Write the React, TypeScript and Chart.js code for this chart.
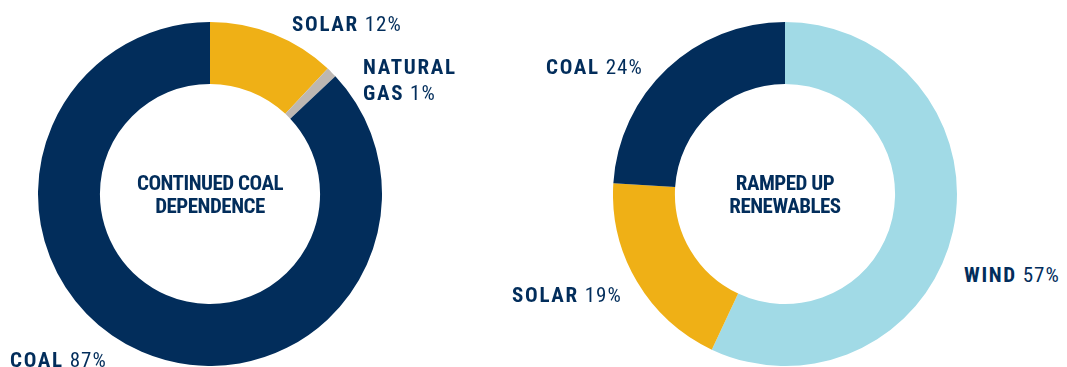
import React, { useEffect, useRef } from "react";
import { Chart, registerables } from "chart.js";

Chart.register(...registerables);

// ---- data ----
const leftCategories = ["SOLAR", "NATURAL GAS", "COAL"];
const leftValues = [12, 1, 87];
const leftColors = ["#EFB016", "#BDB7B2", "#022D5B"];
const leftTitle = ["CONTINUED COAL", "DEPENDENCE"];

const rightCategories = ["WIND", "SOLAR", "COAL"];
const rightValues = [57, 19, 24];
const rightColors = ["#A1DAE6", "#EFB016", "#022D5B"];
const rightTitle = ["RAMPED UP", "RENEWABLES"];

const NAVY = "#022D5B";
const FONT = "'Liberation Sans Narrow', 'Roboto Condensed', 'Arial Narrow', Roboto, sans-serif";

type LabelProps = { lines: { bold: string; value?: string }[]; x: number; y: number; lh?: number };

function Label({ lines, x, y, lh = 26 }: LabelProps) {
  return (
    <div
      style={{
        position: "absolute",
        left: x,
        top: y - 3,
        fontFamily: FONT,
        fontSize: 21,
        lineHeight: lh + "px",
        color: NAVY,
        whiteSpace: "nowrap",
      }}
    >
      {lines.map((l, i) => (
        <div key={i} style={{ height: lh }}>
          <span style={{ fontWeight: 700, letterSpacing: 1.7 }}>{l.bold}</span>
          {l.value ? <span style={{ fontWeight: 400, letterSpacing: 1.0 }}>{" " + l.value}</span> : null}
        </div>
      ))}
    </div>
  );
}

function Donut({ values, colors, labels, left, top, title }: {
  values: number[]; colors: string[]; labels: string[]; left: number; top: number; title: string[];
}) {
  const ref = useRef<HTMLCanvasElement | null>(null);
  useEffect(() => {
    if (!ref.current) return;
    const chart = new Chart(ref.current, {
      type: "doughnut",
      data: {
        labels,
        datasets: [
          {
            data: values,
            backgroundColor: colors,
            borderWidth: 0,
            hoverOffset: 0,
          },
        ],
      },
      options: {
        responsive: false,
        animation: false,
        cutout: "64%",
        layout: { padding: 0 },
        plugins: { legend: { display: false }, tooltip: { enabled: false } },
        events: [],
      },
    });
    return () => chart.destroy();
  }, []);
  return (
    <div style={{ position: "absolute", left, top, width: 344, height: 344 }}>
      <canvas ref={ref} width={344} height={344} style={{ width: 344, height: 344 }} />
      <div
        style={{
          position: "absolute",
          left: 0,
          width: 344,
          top: 150,
          textAlign: "center",
          fontFamily: FONT,
          fontWeight: 700,
          fontSize: 21,
          letterSpacing: -0.5,
          lineHeight: "23px",
          color: NAVY,
        }}
      >
        {title.map((t, i) => (
          <div key={i}>{t}</div>
        ))}
      </div>
    </div>
  );
}

export default function App() {
  useEffect(() => {
    document.body.style.margin = "0";
    document.body.style.background = "#ffffff";
  }, []);
  return (
    <div style={{ position: "relative", width: 1067, height: 367, overflow: "hidden", background: "#fff" }}>
      <Donut values={leftValues} colors={leftColors} labels={leftCategories} left={38} top={22} title={leftTitle} />
      <Donut values={rightValues} colors={rightColors} labels={rightCategories} left={613} top={22} title={rightTitle} />
      <Label lines={[{ bold: "SOLAR", value: leftValues[0] + "%" }]} x={292} y={14} />
      <Label lines={[{ bold: "NATURAL" }, { bold: "GAS", value: leftValues[1] + "%" }]} x={363} y={57} />
      <Label lines={[{ bold: "COAL", value: leftValues[2] + "%" }]} x={10} y={350} />
      <Label lines={[{ bold: "COAL", value: rightValues[2] + "%" }]} x={546} y={57} />
      <Label lines={[{ bold: "SOLAR", value: rightValues[1] + "%" }]} x={512} y={285} />
      <Label lines={[{ bold: "WIND", value: rightValues[0] + "%" }]} x={964} y={265} />
    </div>
  );
}
